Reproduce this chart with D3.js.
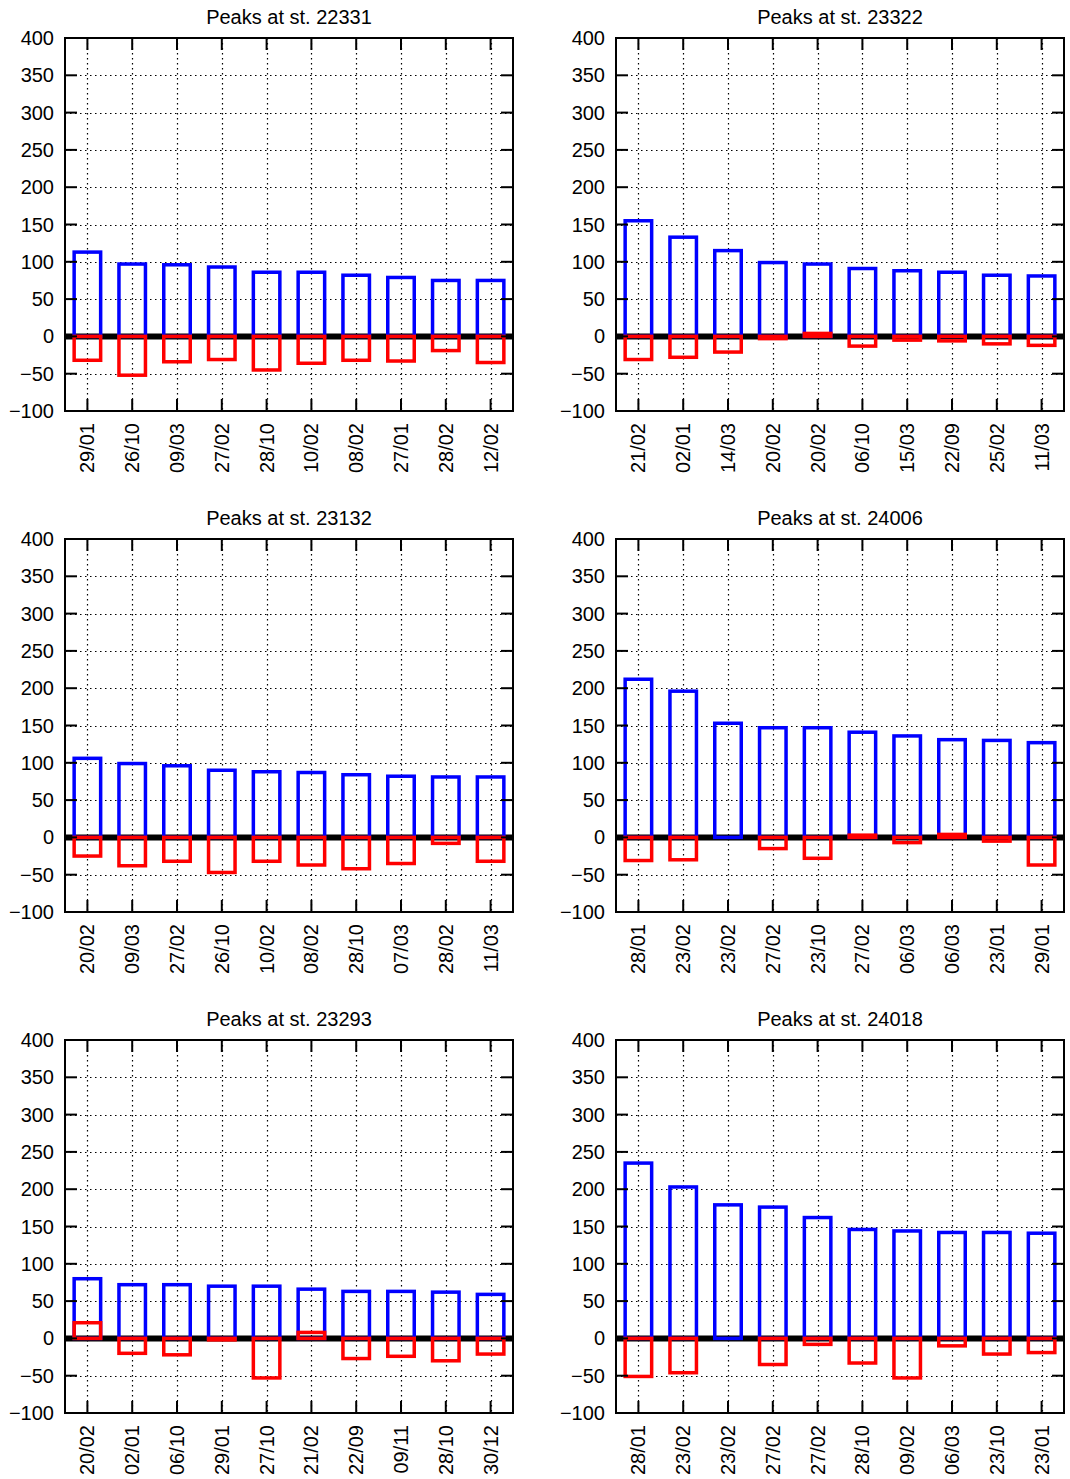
<!DOCTYPE html>
<html>
<head>
<meta charset="utf-8">
<script src="https://cdn.jsdelivr.net/npm/d3@7"></script>
<style>
  html, body { margin: 0; padding: 0; background: #fff; }
  svg text { font-family: "Liberation Sans", Arial, sans-serif; fill: #000; }
</style>
</head>
<body>
<svg id="chart" width="1070" height="1479"></svg>
<script>
// ---- data ----
const stations = ["22331", "23322", "23132", "24006", "23293", "24018"];

const dates22331 = ["29/01","26/10","09/03","27/02","28/10","10/02","08/02","27/01","28/02","12/02"];
const pos22331   = [113, 97, 96, 93, 86, 86, 82, 79, 75, 75];
const neg22331   = [-32, -52, -34, -31, -45, -36, -32, -33, -19, -35];

const dates23322 = ["21/02","02/01","14/03","20/02","20/02","06/10","15/03","22/09","25/02","11/03"];
const pos23322   = [155, 133, 115, 99, 97, 91, 88, 86, 82, 81];
const neg23322   = [-31, -28, -21, -3, 4, -13, -5, -6, -10, -12];

const dates23132 = ["20/02","09/03","27/02","26/10","10/02","08/02","28/10","07/03","28/02","11/03"];
const pos23132   = [106, 99, 96, 90, 88, 87, 84, 82, 81, 81];
const neg23132   = [-25, -38, -32, -47, -32, -37, -42, -35, -8, -32];

const dates24006 = ["28/01","23/02","23/02","27/02","23/10","27/02","06/03","06/03","23/01","29/01"];
const pos24006   = [212, 196, 153, 147, 147, 141, 136, 131, 130, 127];
const neg24006   = [-31, -30, 0, -15, -28, 3, -7, 4, -5, -37];

const dates23293 = ["20/02","02/01","06/10","29/01","27/10","21/02","22/09","09/11","28/10","30/12"];
const pos23293   = [80, 72, 72, 70, 70, 66, 63, 63, 62, 59];
const neg23293   = [21, -20, -22, -2, -53, 8, -27, -24, -30, -21];

const dates24018 = ["28/01","23/02","23/02","27/02","27/02","28/10","09/02","06/03","23/10","23/01"];
const pos24018   = [235, 203, 179, 176, 162, 146, 144, 142, 142, 141];
const neg24018   = [-51, -46, 0, -35, -8, -33, -53, -10, -21, -19];

const yTicks = [-100, -50, 0, 50, 100, 150, 200, 250, 300, 350, 400];

const panels = [
  { st: stations[0], dates: dates22331, pos: pos22331, neg: neg22331 },
  { st: stations[1], dates: dates23322, pos: pos23322, neg: neg23322 },
  { st: stations[2], dates: dates23132, pos: pos23132, neg: neg23132 },
  { st: stations[3], dates: dates24006, pos: pos24006, neg: neg24006 },
  { st: stations[4], dates: dates23293, pos: pos23293, neg: neg23293 },
  { st: stations[5], dates: dates24018, pos: pos24018, neg: neg24018 }
];

// ---- layout ----
const colLeft = [65, 616];
const rowTop = [38, 539, 1040];
const W = 448, H = 373;
const boxOuter = 30, boxStroke = 3.5;
const tickLen = 12;
const fs = 20;

const svg = d3.select("#chart");

panels.forEach((p, i) => {
  const left = colLeft[i % 2];
  const top = rowTop[Math.floor(i / 2)];
  const g = svg.append("g");

  const x = d3.scaleBand().domain(d3.range(p.dates.length)).range([left, left + W]);
  const y = d3.scaleLinear().domain([-100, 400]).range([top + H, top]);
  const cx = d => x(d) + x.bandwidth() / 2;

  // grid (dotted)
  const grid = g.append("g").attr("stroke", "#000").attr("stroke-width", 1.2)
    .attr("stroke-dasharray", "1.5,3.5");
  grid.selectAll("line.h").data(yTicks.filter(t => t > -100 && t < 400)).join("line")
    .attr("x1", left).attr("x2", left + W)
    .attr("y1", d => Math.round(y(d)) + 0.5).attr("y2", d => Math.round(y(d)) + 0.5);
  grid.selectAll("line.v").data(d3.range(p.dates.length)).join("line")
    .attr("x1", d => Math.round(cx(d)) + 0.5).attr("x2", d => Math.round(cx(d)) + 0.5)
    .attr("y1", top).attr("y2", top + H);

  // zero axis
  g.append("line")
    .attr("x1", left).attr("x2", left + W)
    .attr("y1", y(0)).attr("y2", y(0))
    .attr("stroke", "#000").attr("stroke-width", 6);

  const inner = boxOuter - boxStroke;
  // positive boxes
  g.selectAll("rect.pos").data(p.pos).join("rect")
    .attr("x", (d, j) => cx(j) - inner / 2)
    .attr("width", inner)
    .attr("y", d => Math.min(y(0), y(d)))
    .attr("height", d => Math.abs(y(0) - y(d)))
    .attr("fill", "none").attr("stroke", "#0000ff").attr("stroke-width", boxStroke);
  // negative boxes
  g.selectAll("rect.neg").data(p.neg).join("rect")
    .attr("x", (d, j) => cx(j) - inner / 2)
    .attr("width", inner)
    .attr("y", d => Math.min(y(0), y(d)))
    .attr("height", d => Math.abs(y(0) - y(d)))
    .attr("fill", "none").attr("stroke", "#ff0000").attr("stroke-width", boxStroke);

  // ticks
  const tk = g.append("g").attr("stroke", "#000").attr("stroke-width", 2);
  yTicks.forEach(t => {
    tk.append("line").attr("x1", left).attr("x2", left + tickLen).attr("y1", y(t)).attr("y2", y(t));
    tk.append("line").attr("x1", left + W - tickLen).attr("x2", left + W).attr("y1", y(t)).attr("y2", y(t));
  });
  d3.range(p.dates.length).forEach(j => {
    tk.append("line").attr("x1", cx(j)).attr("x2", cx(j)).attr("y1", top + H).attr("y2", top + H - tickLen);
    tk.append("line").attr("x1", cx(j)).attr("x2", cx(j)).attr("y1", top).attr("y2", top + tickLen);
  });

  // frame
  g.append("rect").attr("x", left).attr("y", top).attr("width", W).attr("height", H)
    .attr("fill", "none").attr("stroke", "#000").attr("stroke-width", 2);

  // y labels
  const fmt = d3.format("d");
  g.selectAll("text.yl").data(yTicks).join("text")
    .attr("x", left - 11).attr("y", d => y(d)).attr("dy", "0.35em")
    .attr("text-anchor", "end").attr("font-size", fs)
    .text(d => fmt(d));

  // x labels
  g.selectAll("text.xl").data(p.dates).join("text")
    .attr("transform", (d, j) => `translate(${cx(j)},${top + H + 12}) rotate(-90)`)
    .attr("dy", "0.35em").attr("text-anchor", "end").attr("font-size", fs)
    .text(d => d);

  // title
  g.append("text")
    .attr("x", left + W / 2).attr("y", top - 14)
    .attr("text-anchor", "middle").attr("font-size", fs)
    .text("Peaks at st. " + p.st);
});
</script>
</body>
</html>
